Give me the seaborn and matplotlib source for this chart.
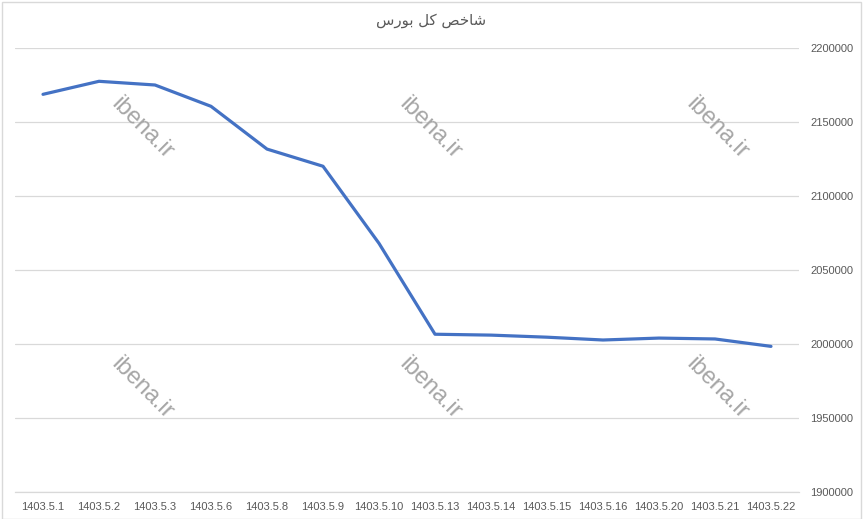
import matplotlib
matplotlib.use("Agg")
import matplotlib.pyplot as plt
import matplotlib.patches as patches
import numpy as np
import seaborn as sns
import pandas as pd

dates = ["1403.5.1", "1403.5.2", "1403.5.3", "1403.5.6", "1403.5.8", "1403.5.9", "1403.5.10",
         "1403.5.13", "1403.5.14", "1403.5.15", "1403.5.16", "1403.5.20", "1403.5.21", "1403.5.22"]
index_values = [2168700, 2177500, 2175000, 2160600, 2131700, 2120100, 2068000,
                2006600, 2006000, 2004600, 2002700, 2004000, 2003400, 1998400]
y_ticks = [1900000, 1950000, 2000000, 2050000, 2100000, 2150000, 2200000]

# title "شاخص کل بورس" written in shaped presentation forms, visual order (no RTL shaping in matplotlib)
title = "\uFEB1\uFEAD\uFEEE\uFE91 \uFEDE\uFB90 \uFEBA\uFEA7\uFE8E\uFEB7"

df = pd.DataFrame({"date": dates, "value": index_values})

sns.set_style("white")
plt.rcParams['font.family'] = ['Liberation Sans', 'DejaVu Sans']

fig = plt.figure(figsize=(8.63, 5.19), dpi=100)
ax = fig.add_axes([15/863, 1 - 492/519, 784/863, 444/519])

sns.lineplot(x="date", y="value", data=df, sort=False, color="#4472C4", linewidth=2.3, ax=ax)

ax.set_xlim(-0.5, len(dates) - 0.5)
ax.set_ylim(1900000, 2200000)
ax.set_yticks(y_ticks)
ax.set_yticklabels([str(v) for v in y_ticks])
ax.yaxis.tick_right()
ax.grid(axis="y", color="#D9D9D9", linewidth=0.9)
ax.grid(axis="x", visible=False)
ax.set_axisbelow(True)
for s in ax.spines.values():
	s.set_visible(False)
ax.spines["bottom"].set_visible(True)
ax.spines["bottom"].set_color("#D9D9D9")
ax.spines["bottom"].set_linewidth(0.9)
ax.tick_params(axis="y", length=0, pad=8, labelsize=8, labelcolor="#595959")
ax.tick_params(axis="x", length=0, pad=7, labelsize=8, labelcolor="#595959")
for lbl in ax.get_yticklabels():
	lbl.set_horizontalalignment("left")
ax.set_xlabel("")
ax.set_ylabel("")

fig.text(431/863, 1 - 21/519, title, ha="center", va="center", fontsize=10.8,
	color="#595959", family=["DejaVu Sans"])

# watermarks
for wx in [142, 430, 717]:
	for wy in [128, 388]:
		fig.text(wx/863, 1 - wy/519, "ibena.ir", ha="center", va="center", rotation=-45,
			fontsize=17, color="#A6A6A6", family=["Liberation Sans", "DejaVu Sans"])

# chart area border
fig.patches.append(patches.Rectangle((2/863, 0), 859/863, 1 - 1.5/519, transform=fig.transFigure,
	fill=False, edgecolor="#D9D9D9", linewidth=1))

fig.savefig("out.png", dpi=100)
